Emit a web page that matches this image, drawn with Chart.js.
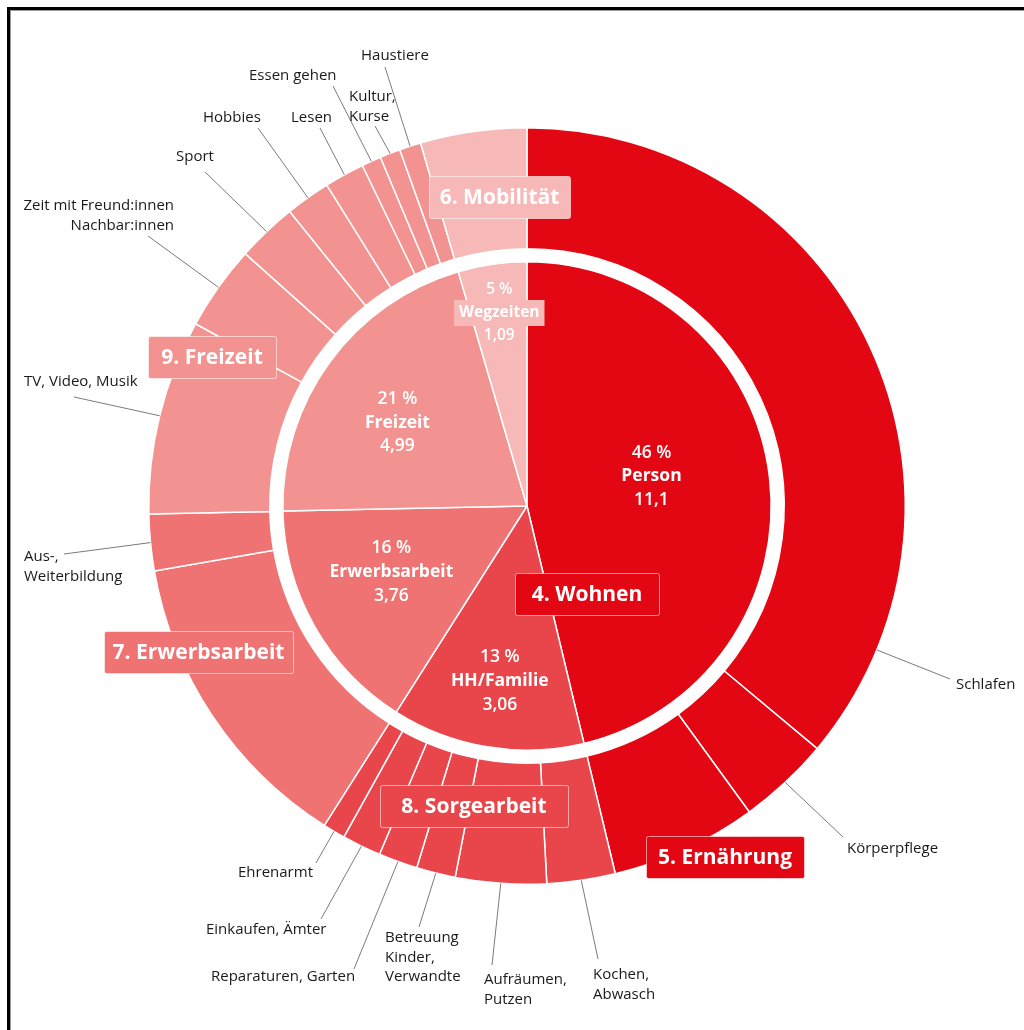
<!DOCTYPE html>
<html lang="de">
<head>
<meta charset="utf-8">
<title>Zeitverwendung</title>
<script src="https://cdn.jsdelivr.net/npm/chart.js@4.4.1/dist/chart.umd.min.js"></script>
<style>
  html, body { margin: 0; padding: 0; background: #fff; overflow: hidden; }
  #frame { position: absolute; left: 7px; top: 7px; width: 1100px; height: 1100px; border: 3px solid #000; box-shadow: inset 1px 1px 0 #999; }
  #wrap { position: absolute; left: 0; top: 0; width: 1024px; height: 1030px; }
</style>
</head>
<body>
<div id="frame"></div>
<div id="wrap"><canvas id="chart" width="1024" height="1030"></canvas></div>
<script>
// ==========================================================================
// 1. DATEN (Stunden pro Tag)
// ==========================================================================
const mainCategories = ['Person', 'HH/Familie', 'Erwerbsarbeit', 'Freizeit', 'Wegzeiten'];
const mainHours = [11.1, 3.06, 3.76, 4.99, 1.09];
const mainShares = ['46 %', '13 %', '16 %', '21 %', '5 %'];
const mainHourTexts = ['11,1', '3,06', '3,76', '4,99', '1,09'];

const subCategories = [
  'Schlafen', 'Körperpflege', 'Ernährung',
  'Kochen,\nAbwasch', 'Aufräumen,\nPutzen', 'Betreuung\nKinder,\nVerwandte',
  'Reparaturen, Garten', 'Einkaufen, Ämter', 'Ehrenarmt',
  'Erwerbsarbeit', 'Aus-,\nWeiterbildung',
  'TV, Video, Musik', 'Zeit mit Freund:innen\nNachbar:innen', 'Sport', 'Hobbies',
  'Lesen', 'Essen gehen', 'Kultur,\nKurse', 'Haustiere',
  'Wegzeiten'
];
const subHours = [8.66, 0.94, 1.50, 0.70, 0.93, 0.40, 0.40, 0.40, 0.23, 3.18, 0.58,
                  2.00, 0.87, 0.62, 0.46, 0.41, 0.20, 0.21, 0.22, 1.09];
const subParent = [0, 0, 0, 1, 1, 1, 1, 1, 1, 2, 2, 3, 3, 3, 3, 3, 3, 3, 3, 4];

const sectionTitles = ['4. Wohnen', '5. Ernährung', '6. Mobilität', '7. Erwerbsarbeit', '8. Sorgearbeit', '9. Freizeit'];
const sectionGroup = [0, 0, 4, 2, 1, 3];

// ==========================================================================
// 2. LAYOUT & FARBEN
// ==========================================================================
const mainColors = ['#e30613', '#e9464c', '#ef7372', '#f29391', '#f7b9b7'];
const FONT = '"Open Sans", "Noto Sans", sans-serif';

// Beschriftungen aussen: Textposition + Knick der Hinweislinie
const subLabelLayout = [
  { i: 0,  x: 956, y: 685, lx: 950, ly: 679, t: 0.865 },
  { i: 1,  x: 847, y: 849, lx: 843, ly: 837 },
  { i: 3,  x: 593, y: 975, lx: 598, ly: 959 },
  { i: 4,  x: 484, y: 980, lx: 492, ly: 965 },
  { i: 5,  x: 385, y: 938, lx: 419, ly: 927 },
  { i: 6,  x: 211, y: 977, lx: 354, ly: 969 },
  { i: 7,  x: 206, y: 930, lx: 321, ly: 919 },
  { i: 8,  x: 238, y: 873, lx: 316, ly: 863 },
  { i: 10, x: 24,  y: 557, lx: 64,  ly: 554 },
  { i: 11, x: 24,  y: 382, lx: 74,  ly: 397 },
  { i: 12, x: 174, y: 206, lx: 148, ly: 236, align: 'right' },
  { i: 13, x: 176, y: 157, lx: 205, ly: 172 },
  { i: 14, x: 203, y: 118, lx: 258, ly: 128 },
  { i: 15, x: 291, y: 118, lx: 320, ly: 128 },
  { i: 16, x: 249, y: 76,  lx: 333, ly: 86 },
  { i: 17, x: 349, y: 97,  lx: 375, ly: 126 },
  { i: 18, x: 361, y: 56,  lx: 385, ly: 67 }
];

// Beschriftungen innen: Radius + Winkelversatz zur Segmentmitte
const innerLabelLayout = [
  { r: 128, da: -6.7, size: 17.5, gap: 23.5 },
  { r: 177, da: -0.6, size: 17.5, gap: 24 },
  { r: 151, da: 3.3,  size: 17.5, gap: 24 },
  { r: 154, da: -3.5, size: 17.5, gap: 23.5 },
  { r: 195, da: 0,    size: 15.5, gap: 23, bg: true }
];

// Kästen mit Kapitelnummern
const sectionBoxLayout = [
  { x: 515, y: 573, w: 144, h: 42 },
  { x: 646, y: 836, w: 158, h: 42 },
  { x: 429, y: 176, w: 141, h: 42 },
  { x: 104, y: 631, w: 189, h: 42 },
  { x: 380, y: 785, w: 188, h: 42 },
  { x: 148, y: 336, w: 128, h: 42 }
];

// ==========================================================================
// 3. PLUGIN: Beschriftungen zeichnen
// ==========================================================================
const labelPlugin = {
  id: 'labelPlugin',
  afterDatasetsDraw(chart) {
    const ctx = chart.ctx;
    const outer = chart.getDatasetMeta(0).data;
    const inner = chart.getDatasetMeta(2).data;

    ctx.save();

    // Hinweislinien + Texte aussen
    ctx.strokeStyle = '#7a7a7a';
    ctx.lineWidth = 1;
    ctx.fillStyle = '#1a1a1a';
    ctx.font = '15px ' + FONT;
    ctx.textBaseline = 'middle';
    subLabelLayout.forEach(l => {
      const arc = outer[l.i];
      const t = l.t !== undefined ? l.t : 0.5;
      const a = arc.startAngle + (arc.endAngle - arc.startAngle) * t;
      const ex = arc.x + Math.cos(a) * arc.outerRadius;
      const ey = arc.y + Math.sin(a) * arc.outerRadius;
      ctx.beginPath();
      ctx.moveTo(l.lx, l.ly);
      ctx.lineTo(ex, ey);
      ctx.stroke();

      ctx.textAlign = l.align || 'left';
      subCategories[l.i].split('\n').forEach((line, k) => {
        ctx.fillText(line, l.x, l.y + k * 19.5);
      });
    });

    // Texte im inneren Kreis
    ctx.textAlign = 'center';
    inner.forEach((arc, i) => {
      const lay = innerLabelLayout[i];
      const a = (arc.startAngle + arc.endAngle) / 2 + lay.da * Math.PI / 180;
      const cx = arc.x + Math.cos(a) * lay.r;
      const cy = arc.y + Math.sin(a) * lay.r;
      if (lay.bg) {
        ctx.font = 'bold ' + lay.size + 'px ' + FONT;
        const w = ctx.measureText(mainCategories[i]).width;
        ctx.fillStyle = mainColors[i];
        ctx.fillRect(cx - w / 2 - 5, cy - 13, w + 10, 26);
      }
      ctx.fillStyle = '#fff';
      ctx.font = '600 ' + lay.size + 'px ' + FONT;
      ctx.fillText(mainShares[i], cx, cy - lay.gap);
      ctx.font = 'bold ' + lay.size + 'px ' + FONT;
      ctx.fillText(mainCategories[i], cx, cy);
      ctx.font = '600 ' + lay.size + 'px ' + FONT;
      ctx.fillText(mainHourTexts[i], cx, cy + lay.gap);
    });

    // Kapitel-Kästen
    ctx.font = 'bold 21px ' + FONT;
    sectionTitles.forEach((title, i) => {
      const b = sectionBoxLayout[i];
      ctx.fillStyle = mainColors[sectionGroup[i]];
      ctx.beginPath();
      ctx.roundRect(b.x + 0.5, b.y + 0.5, b.w, b.h, 2);
      ctx.fill();
      ctx.strokeStyle = 'rgba(255,255,255,0.55)';
      ctx.lineWidth = 1;
      ctx.stroke();
      ctx.fillStyle = '#fff';
      ctx.fillText(title, b.x + b.w / 2, b.y + b.h / 2 + 1);
    });

    ctx.restore();
  }
};

// ==========================================================================
// 4. CHART
// ==========================================================================
const chartCtx = document.getElementById('chart').getContext('2d');
new Chart(chartCtx, {
  type: 'doughnut',
  data: {
    labels: subCategories,
    datasets: [
      {
        data: subHours,
        backgroundColor: subParent.map(p => mainColors[p]),
        borderColor: '#fff',
        borderWidth: 1.5,
        weight: 121
      },
      {
        data: [mainHours.reduce((s, v) => s + v, 0)],
        backgroundColor: '#fff',
        borderWidth: 0,
        weight: 13
      },
      {
        data: mainHours,
        backgroundColor: mainColors,
        borderColor: '#fff',
        borderWidth: 1.5,
        weight: 244
      }
    ]
  },
  options: {
    responsive: false,
    animation: false,
    events: [],
    cutout: 0,
    layout: { padding: { left: 148, right: 118, top: 127, bottom: 145 } },
    plugins: {
      legend: { display: false },
      tooltip: { enabled: false }
    }
  },
  plugins: [labelPlugin]
});
</script>
</body>
</html>
